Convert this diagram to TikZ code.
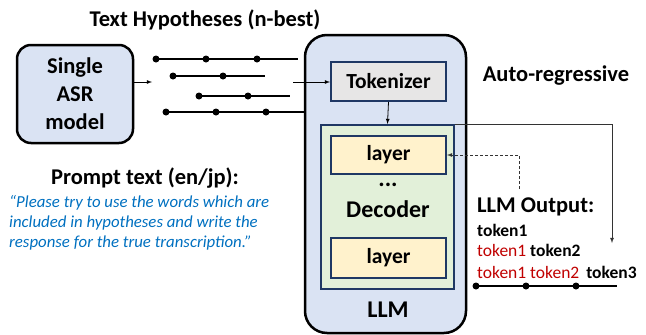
\documentclass[tikz,border=0pt]{standalone}
\usepackage{fontspec}
\setmainfont{Carlito}
\usepackage{xcolor}
\usepackage{tikz}
\usetikzlibrary{arrows,positioning}
\definecolor{boxblue}{HTML}{DAE3F3}
\definecolor{boxnavy}{HTML}{1F3864}
\definecolor{tokgray}{HTML}{E7E6E6}
\definecolor{decgreen}{HTML}{E2F0D9}
\definecolor{layeryellow}{HTML}{FFF2CC}
\definecolor{outred}{HTML}{C00000}
\definecolor{promptblue}{HTML}{0070C0}

\begin{document}
\begin{tikzpicture}[x=1pt,y=-1pt,
    bigbox/.style={draw,line width=2.5pt,fill=boxblue},
    navybox/.style={draw=boxnavy,line width=2pt,inner sep=0pt},
    lbl/.style={font=\bfseries\fontsize{22.5}{27}\selectfont},
    boxlbl/.style={font=\bfseries\fontsize{21.5}{25}\selectfont},
    biglbl/.style={font=\bfseries\fontsize{24}{28}\selectfont},
    tok/.style={font=\fontsize{17.5}{20}\selectfont,inner sep=0pt},
    hypdot/.style={circle,fill,inner sep=0pt,minimum size=7pt}]
    \useasboundingbox (0,0) rectangle (646,335);
    % left side
    \node[bigbox,rounded corners=14pt,minimum width=116pt,minimum height=98pt,
      align=center,font=\bfseries\fontsize{22.5}{28}\selectfont] (asr) at (75,94)
      {Single\\ASR\\model};
    \node[lbl] (hyptitle) at (205,20) {Text Hypotheses (n-best)};
    \coordinate (hypin) at (152,82);
    \coordinate (hypout) at (293,82);
    \draw[-latex,line width=0.8pt] (asr.east |- hypin) -- (hypin);
    % n-best hypotheses
    \draw[line width=1.4pt] (156,59) -- (298,59);
    \draw[line width=1.4pt] (173,76) -- (265,76);
    \draw[line width=1.4pt] (199,96) -- (290,96);
    \draw[line width=1.4pt] (166,112) -- (305,112);
    \foreach \x/\y in {156/59,206/59,257/59,173/76,223/76,199/96,248/96,166/112,216/112,266/112}
      \node[hypdot] at (\x,\y) {};
    \node[lbl] (prompttitle) at (145,178) {Prompt text (en/jp):};
    \node[anchor=west,align=left,text=promptblue,inner sep=0pt,
      font=\itshape\fontsize{16.8}{20}\selectfont] (prompt) at (9,223)
      {“Please try to use the words which are\\
       included in hypotheses and write the\\
       response for the true transcription.”};
    % LLM
    \node[bigbox,rounded corners=22pt,minimum width=161pt,minimum height=298pt] (llm) at (385.5,184) {};
    \node[biglbl] (llmlabel) at (388,310) {LLM};
    \node[navybox,fill=tokgray,minimum width=115pt,minimum height=39pt,boxlbl] (tokenizer) at (388.5,81.5) {Tokenizer};
    \node[navybox,fill=decgreen,minimum width=133pt,minimum height=164pt] (dec) at (387.5,207) {};
    \node[navybox,fill=layeryellow,minimum width=115pt,minimum height=38pt,boxlbl] (layer1) at (388.5,155) {layer};
    \node[navybox,fill=layeryellow,minimum width=115pt,minimum height=40pt,boxlbl] (layer2) at (388.5,258) {layer};
    \node[biglbl] (dots) at (388,185) {...};
    \node[biglbl] (declabel) at (388,209) {Decoder};
    \draw[-latex,line width=0.8pt] (hypout) -- (tokenizer.west |- hypout);
    \draw[-latex,line width=0.8pt] (tokenizer.south) -- (dec.north);
    % output side
    \node[lbl] (autoreg) at (556,76) {Auto-regressive};
    \node[lbl,anchor=west,inner sep=0pt] (outtitle) at (477,207) {LLM Output:};
    \node[tok,anchor=west] (out1) at (477,230) {\textbf{token1}};
    \node[tok,anchor=west] (out2) at (477,250) {{\color{outred}token1} \textbf{token2}};
    \node[tok,anchor=west] (out3) at (477,272) {{\color{outred}token1 token2}\hspace{7pt}\textbf{token3}};
    \draw[line width=1.4pt] (476,286) -- (617,286);
    \foreach \x in {476,526,576}
      \node[hypdot] at (\x,286) {};
    \coordinate (loopend) at (612,243);
    \coordinate (dashstart) at (519,189);
    \draw[-latex,black!80,line width=0.8pt] (dec.north east) -| (loopend);
    \draw[dash pattern=on 3pt off 2pt,-latex,black!80,line width=0.8pt] (dashstart) |- (layer1.east);
\end{tikzpicture}
\end{document}
